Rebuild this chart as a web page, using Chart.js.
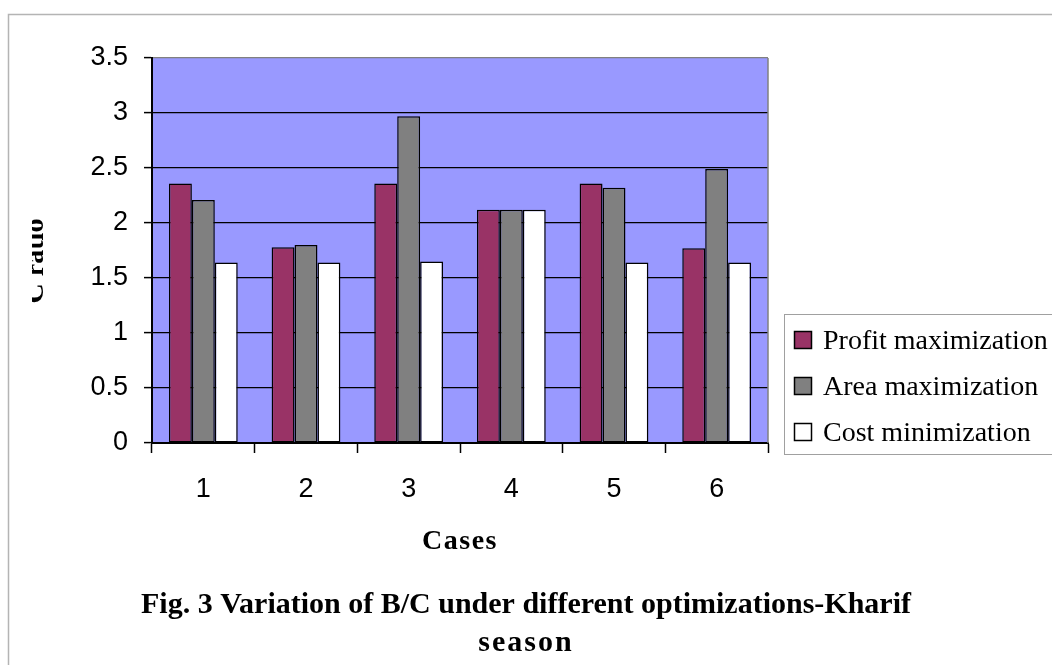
<!DOCTYPE html>
<html>
<head>
<meta charset="utf-8">
<script src="https://cdn.jsdelivr.net/npm/chart.js@4.4.1/dist/chart.umd.min.js"></script>
<style>
  html, body { margin: 0; padding: 0; background: #ffffff; }
  canvas { display: block; }
</style>
</head>
<body>
<canvas id="bc" width="1052" height="665"></canvas>
<script>
// Benefit/cost ratios per case, Kharif season
const cases = ['1', '2', '3', '4', '5', '6'];
const profitMax = [2.36, 1.78, 2.36, 2.12, 2.36, 1.77];
const areaMax   = [2.21, 1.80, 2.97, 2.12, 2.32, 2.49];
const costMin   = [1.64, 1.64, 1.65, 2.12, 1.64, 1.64];
const seriesNames = ['Profit maximization', 'Area maximization', 'Cost minimization'];
const yTicks = [0, 0.5, 1, 1.5, 2, 2.5, 3, 3.5];

const xTitle = 'Cases';
const yTitle = 'C ratio';
const figTitle = ['Fig. 3 Variation of B/C under different optimizations-Kharif', 'season'];

const SANS = '"Liberation Sans", Arial, sans-serif';
const SERIF = '"Liberation Serif", "Times New Roman", serif';

// Page frame, plot fill, plot border, captions and legend box
const decorations = {
  id: 'decorations',
  beforeDraw(chart) {
    const { ctx, chartArea: a } = chart;
    ctx.save();
    ctx.fillStyle = '#ffffff';
    ctx.fillRect(0, 0, chart.width, chart.height);
    ctx.strokeStyle = '#b4b4b4';
    ctx.lineWidth = 1.5;
    ctx.beginPath();
    ctx.moveTo(8.5, chart.height + 2);
    ctx.lineTo(8.5, 14.5);
    ctx.lineTo(chart.width + 2, 14.5);
    ctx.stroke();
    ctx.fillStyle = '#9999ff';
    ctx.fillRect(a.left, a.top, a.right - a.left, a.bottom - a.top);
    ctx.restore();
  },
  afterDraw(chart) {
    const { ctx, chartArea: a } = chart;
    ctx.save();
    // right edge of the plot
    ctx.strokeStyle = '#808080';
    ctx.lineWidth = 1.5;
    ctx.beginPath();
    ctx.moveTo(a.right, a.top);
    ctx.lineTo(a.right, a.bottom);
    ctx.stroke();

    ctx.fillStyle = '#000000';
    ctx.textAlign = 'center';
    ctx.textBaseline = 'middle';

    // axis caption below the categories
    ctx.font = 'bold 28px ' + SERIF;
    ctx.letterSpacing = '1.5px';
    ctx.fillText(xTitle, (a.left + a.right) / 2, 542);

    // figure caption
    ctx.font = 'bold 30px ' + SERIF;
    ctx.letterSpacing = '0px';
    ctx.fillText(figTitle[0], 526, 605);
    ctx.letterSpacing = '2px';
    ctx.fillText(figTitle[1], 526, 643);
    ctx.letterSpacing = '0px';

    // vertical axis caption, clipped at the page edge
    ctx.save();
    ctx.beginPath();
    ctx.rect(32, 0, 200, chart.height);
    ctx.clip();
    ctx.translate(43, 261);
    ctx.rotate(-Math.PI / 2);
    ctx.textBaseline = 'alphabetic';
    ctx.font = 'bold 28px ' + SERIF;
    ctx.fillText(yTitle, 0, 0);
    ctx.restore();

    // legend
    ctx.fillStyle = '#ffffff';
    ctx.fillRect(784, 314, 300, 140);
    ctx.strokeStyle = '#a0a0a0';
    ctx.lineWidth = 1;
    ctx.strokeRect(784.5, 314.5, 300, 140);
    chart.data.datasets.forEach((ds, i) => {
      const cy = 340 + i * 46;
      ctx.fillStyle = ds.backgroundColor;
      ctx.fillRect(794, cy - 9, 18, 18);
      ctx.strokeStyle = '#000000';
      ctx.lineWidth = 1.5;
      ctx.strokeRect(794.5, cy - 8.5, 17, 17);
      ctx.fillStyle = '#000000';
      ctx.textAlign = 'left';
      ctx.textBaseline = 'middle';
      ctx.font = '28px ' + SERIF;
      ctx.fillText(ds.label, 823, cy + 2);
    });
    ctx.restore();
  }
};

new Chart(document.getElementById('bc'), {
  type: 'bar',
  data: {
    labels: cases,
    datasets: [
      { label: seriesNames[0], data: profitMax, backgroundColor: '#993366' },
      { label: seriesNames[1], data: areaMax,   backgroundColor: '#808080' },
      { label: seriesNames[2], data: costMin,   backgroundColor: '#ffffff' }
    ].map(d => Object.assign(d, {
      borderColor: '#000000',
      borderWidth: 1.5,
      borderSkipped: false,
      categoryPercentage: 0.67,
      barPercentage: 1.0
    }))
  },
  options: {
    responsive: false,
    animation: false,
    devicePixelRatio: 1,
    layout: { padding: { left: 0, top: 58, right: 284, bottom: 0 } },
    plugins: {
      legend: { display: false },
      tooltip: { enabled: false },
      title: { display: false }
    },
    scales: {
      x: {
        offset: true,
        grid: {
          offset: true,
          drawOnChartArea: false,
          drawTicks: true,
          tickLength: 10,
          tickColor: '#000000',
          tickWidth: 1.5
        },
        border: { color: '#000000', width: 2 },
        ticks: {
          color: '#000000',
          font: { family: SANS, size: 27 },
          padding: 20,
          maxRotation: 0
        },
        afterFit(scale) { scale.height = 665 - 443; }
      },
      y: {
        min: 0,
        max: 3.5,
        afterBuildTicks(scale) { scale.ticks = yTicks.map(v => ({ value: v })); },
        grid: {
          color: ctx => (ctx.tick && ctx.tick.value === 3.5) ? '#808080' : '#000000',
          lineWidth: 1.2,
          tickLength: 8,
          tickColor: '#000000',
          tickWidth: 1.5
        },
        border: { color: '#000000', width: 2 },
        ticks: {
          color: '#000000',
          font: { family: SANS, size: 27 },
          padding: 16,
          callback: v => String(v)
        },
        afterFit(scale) { scale.width = 152; }
      }
    }
  },
  plugins: [decorations]
});
</script>
</body>
</html>
